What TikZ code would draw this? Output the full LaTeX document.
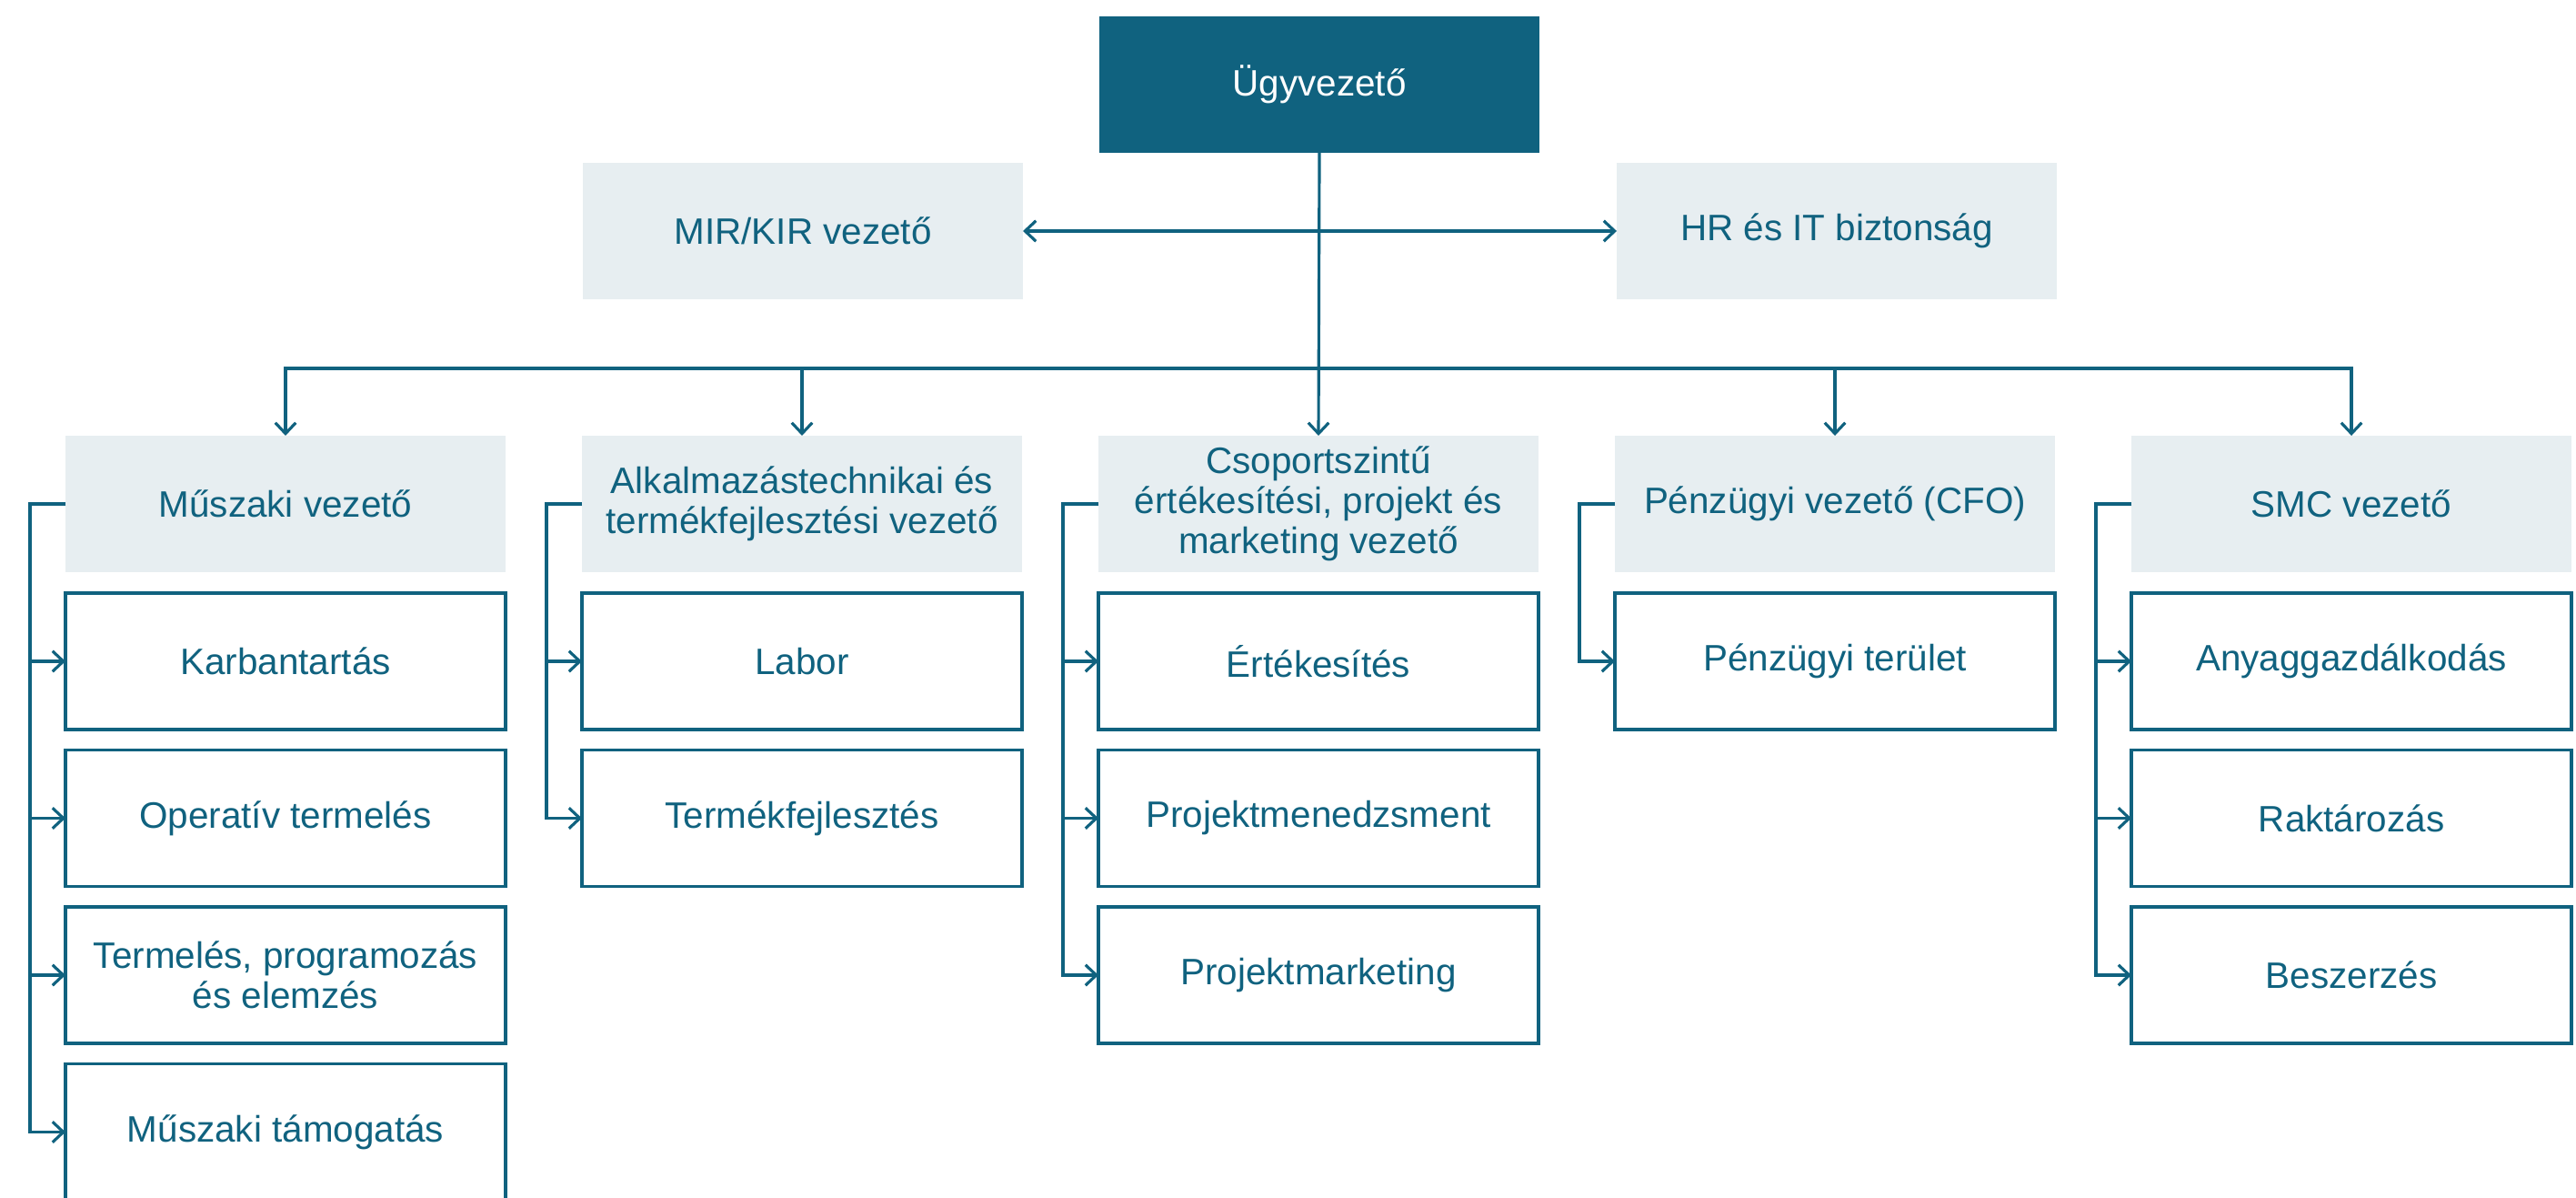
\documentclass[tikz,border=0pt]{standalone}
\usepackage{fontspec}
\setmainfont{Liberation Sans}
\usepackage{tikz}
\usetikzlibrary{arrows.meta}
\definecolor{teal}{HTML}{10627F}
\definecolor{pale}{HTML}{E7EEF1}
\tikzstyle{arrow} = [line width=0.9pt,-{Straight Barb[length=3.4pt,width=6.4pt]}]
\tikzset{box/.style={minimum width=4.84cm, minimum height=1.5cm, inner sep=0pt, outer sep=0pt, align=center, font=\fontsize{11.5}{12.6}\selectfont, text=teal}}
\tikzset{head/.style={box, fill=pale}}
\tikzset{unit/.style={box, draw=teal, line width=0.9pt, fill=white}}
\tikzset{boss/.style={box, fill=teal, text=white}}

\begin{document}
\begin{tikzpicture}[teal]
\useasboundingbox (0,0) rectangle (28.33,13.16);
\clip (0,0) rectangle (28.33,13.16);

% top level
\node[boss] (ceo) at (14.51,12.23) {Ügyvezető};
\node[head] (mir) at (8.83,10.62) {MIR/KIR vezető};
\node[head] (hr) at (20.20,10.62) {HR és IT biztonság};

% second level
\node[head] (tech) at (3.14,7.62) {Műszaki vezető};
\node[head] (alk) at (8.82,7.62) {Alkalmazástechnikai és\\termékfejlesztési vezető};
\node[head] (sales) at (14.50,7.62) {Csoportszintű\\értékesítési, projekt és\\marketing vezető};
\node[head] (cfo) at (20.18,7.62) {Pénzügyi vezető (CFO)};
\node[head] (smc) at (25.86,7.62) {SMC vezető};

% units
\node[unit] (karb) at (3.14,5.89) {Karbantartás};
\node[unit] (oper) at (3.14,4.165) {Operatív termelés};
\node[unit] (prog) at (3.14,2.44) {Termelés, programozás\\és elemzés};
\node[unit] (tam) at (3.14,0.715) {Műszaki támogatás};

\node[unit] (labor) at (8.82,5.89) {Labor};
\node[unit] (fejl) at (8.82,4.165) {Termékfejlesztés};

\node[unit] (ert) at (14.50,5.89) {Értékesítés};
\node[unit] (pmen) at (14.50,4.165) {Projektmenedzsment};
\node[unit] (pmark) at (14.50,2.44) {Projektmarketing};

\node[unit] (penz) at (20.18,5.89) {Pénzügyi terület};

\node[unit] (anyag) at (25.86,5.89) {Anyaggazdálkodás};
\node[unit] (rakt) at (25.86,4.165) {Raktározás};
\node[unit] (besz) at (25.86,2.44) {Beszerzés};

\coordinate (bus) at (14.51,9.11);

% connectors
\draw[arrow,{Straight Barb[length=3.4pt,width=6.4pt]}-{Straight Barb[length=3.4pt,width=6.4pt]}] (mir.east) -- (hr.west);
\draw[arrow] (ceo.south) -- (sales.north);
\draw[arrow] (bus) -| (tech.north);
\draw[arrow] (bus) -| (alk.north);
\draw[arrow] (bus) -| (cfo.north);
\draw[arrow] (bus) -| (smc.north);

\draw[arrow] (tech.west) -- ++(-0.39,0) |- (tam.west);
\draw[arrow] ([xshift=-3.9mm]tech.west) |- (karb.west);
\draw[arrow] ([xshift=-3.9mm]tech.west) |- (oper.west);
\draw[arrow] ([xshift=-3.9mm]tech.west) |- (prog.west);

\draw[arrow] (alk.west) -- ++(-0.39,0) |- (fejl.west);
\draw[arrow] ([xshift=-3.9mm]alk.west) |- (labor.west);

\draw[arrow] (sales.west) -- ++(-0.39,0) |- (pmark.west);
\draw[arrow] ([xshift=-3.9mm]sales.west) |- (ert.west);
\draw[arrow] ([xshift=-3.9mm]sales.west) |- (pmen.west);

\draw[arrow] (cfo.west) -- ++(-0.39,0) |- (penz.west);

\draw[arrow] (smc.west) -- ++(-0.39,0) |- (besz.west);
\draw[arrow] ([xshift=-3.9mm]smc.west) |- (anyag.west);
\draw[arrow] ([xshift=-3.9mm]smc.west) |- (rakt.west);
\end{tikzpicture}
\end{document}
